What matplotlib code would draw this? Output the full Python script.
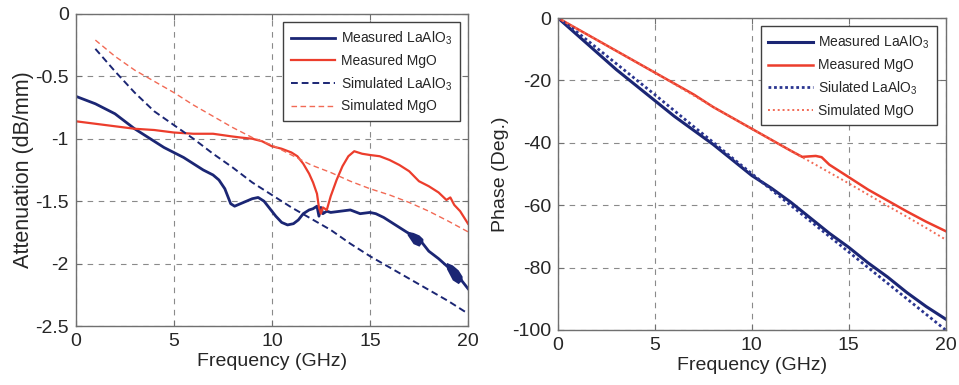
import matplotlib
matplotlib.use("Agg")
import matplotlib.pyplot as plt

plt.rcParams['font.family'] = ['Liberation Sans', 'DejaVu Sans']
plt.rcParams['mathtext.fontset'] = 'custom'
plt.rcParams['mathtext.rm'] = 'Liberation Sans'
plt.rcParams['mathtext.it'] = 'Liberation Sans'
plt.rcParams['axes.unicode_minus'] = False

NAVY = '#1b2674'
RED = '#ec3d2c'
SALMON = '#f26a55'
TXT = '#262626'

# ---- attenuation (left) ----
f_meas_la = [0, 0.5, 1, 1.5, 2, 2.5, 3, 3.5, 4, 4.5, 5, 5.5, 6, 6.5, 7, 7.3, 7.6, 7.9,
             8.1, 8.4, 8.7, 9.0, 9.3, 9.6, 9.9, 10.2, 10.5, 10.8, 11.1, 11.35, 11.6, 11.9,
             12.1, 12.3, 12.4, 12.5, 12.6, 12.8, 13.0, 13.5, 14.0, 14.5, 15.0, 15.3, 15.7,
             16.0, 16.5, 17.0, 17.5, 18.0, 18.5, 19.0, 19.5, 20.0]
att_meas_la = [-0.66, -0.69, -0.72, -0.76, -0.80, -0.86, -0.92, -0.97, -1.02, -1.07, -1.11,
               -1.15, -1.20, -1.25, -1.29, -1.33, -1.40, -1.52, -1.54, -1.52, -1.50, -1.48,
               -1.47, -1.50, -1.56, -1.62, -1.67, -1.69, -1.68, -1.65, -1.60, -1.57,
               -1.56, -1.54, -1.62, -1.55, -1.60, -1.58, -1.59, -1.58, -1.57, -1.60, -1.59,
               -1.60, -1.63, -1.66, -1.71, -1.76, -1.80, -1.90, -1.96, -2.03, -2.10, -2.20]

f_meas_mg = [0, 1, 2, 3, 4, 5, 6, 7, 7.9, 8.4, 9.0, 9.5, 10.0, 10.5, 11.0, 11.3, 11.6,
             11.9, 12.1, 12.3, 12.4, 12.5, 12.6, 12.8, 13.0, 13.3, 13.6, 13.9, 14.2, 14.6,
             15.0, 15.5, 16.0, 16.5, 17.0, 17.5, 18.0, 18.5, 18.9, 19.1, 19.3, 19.6, 20.0]
att_meas_mg = [-0.86, -0.88, -0.90, -0.92, -0.93, -0.95, -0.96, -0.96, -0.98, -0.99, -1.00,
               -1.02, -1.06, -1.08, -1.11, -1.14, -1.20, -1.28, -1.35, -1.44, -1.55, -1.60,
               -1.55, -1.57, -1.46, -1.33, -1.22, -1.14, -1.10, -1.12, -1.13, -1.14, -1.17,
               -1.21, -1.26, -1.34, -1.38, -1.43, -1.49, -1.47, -1.53, -1.58, -1.68]

f_sim = [1, 2, 3, 4, 5, 6, 7, 8, 9, 10, 11, 12, 13, 14, 15, 16, 17, 18, 19, 20]
att_sim_la = [-0.28, -0.46, -0.63, -0.78, -0.89, -1.00, -1.12, -1.23, -1.35, -1.45,
              -1.55, -1.64, -1.73, -1.84, -1.94, -2.03, -2.12, -2.21, -2.30, -2.40]
att_sim_mg = [-0.21, -0.34, -0.45, -0.54, -0.63, -0.73, -0.82, -0.91, -0.99, -1.05,
              -1.13, -1.21, -1.27, -1.34, -1.40, -1.45, -1.51, -1.58, -1.66, -1.745]

# noisy (thick) parts of the measured LaAlO3 trace
band_a_f = [16.9, 17.2, 17.5, 17.7]
band_a_lo = [-1.77, -1.84, -1.86, -1.82]
band_a_hi = [-1.74, -1.75, -1.77, -1.80]
band_b_f = [18.9, 19.2, 19.5, 19.7]
band_b_lo = [-2.04, -2.13, -2.16, -2.13]
band_b_hi = [-1.99, -2.01, -2.05, -2.10]

# ---- phase (right) ----
f_ph = [0, 1, 2, 3, 4, 5, 6, 7, 8, 9, 10, 11, 12, 13, 14, 15, 16, 17, 18, 19, 20]
ph_meas_la = [0, -5.5, -11, -16.5, -21.5, -26.5, -31.5, -36, -40.5, -45.5, -50.5,
              -54.5, -59, -64, -69, -73.5, -78.5, -83, -88, -92.5, -96.5]
ph_sim_la = [0, -4.6, -9.6, -14.6, -19.6, -24.6, -29.7, -34.8, -39.8, -44.9, -49.9,
             -55, -60, -65, -70, -75, -80, -85, -90, -95, -100]

f_ph_mg = [0, 1, 2, 3, 4, 5, 6, 7, 8, 9, 10, 11, 12, 12.6, 13.3, 13.6, 14, 15, 16, 17,
           18, 19, 20]
ph_meas_mg = [0, -3.5, -7, -10.5, -14, -17.5, -21, -24.5, -28.5, -32, -35.5, -39, -42.5,
              -44.5, -44.2, -44.6, -47, -51, -55, -58.5, -62, -65.3, -68.3]
f_ph_sim_mg = [0, 2, 5, 8, 10, 12.5, 13, 14, 15, 16, 17, 18, 19, 20]
ph_sim_mg = [0, -7, -17.5, -28.5, -35.5, -44.3, -46, -49.5, -53, -56.6, -60.2, -63.7,
             -67.3, -71]


def style_axes(ax):
    ax.grid(True, color='#8a8a8a', linestyle=(0, (5, 5)), linewidth=0.8)
    ax.set_axisbelow(True)
    for s in ax.spines.values():
        s.set_color('#707070')
        s.set_linewidth(1.0)
    ax.tick_params(direction='in', top=True, right=True, length=4, color='#707070',
                   labelsize=14, labelcolor=TXT, pad=5)
    ax.set_xlim(0, 20)
    ax.set_xticks([0, 5, 10, 15, 20])
    ax.set_xlabel('Frequency (GHz)', fontsize=14, color=TXT, labelpad=2)


def add_legend(ax):
    leg = ax.legend(loc='upper right', fontsize=10, frameon=True, fancybox=False,
                    edgecolor='#404040', framealpha=1, handlelength=3.2,
                    handletextpad=0.4, labelspacing=0.5, borderaxespad=0.6,
                    borderpad=0.55)
    leg.get_frame().set_linewidth(1.0)
    for t in leg.get_texts():
        t.set_color(TXT)


fig = plt.figure(figsize=(9.59, 3.85), dpi=100)
ax1 = fig.add_axes([0.079, 0.153, 0.409, 0.811])
ax2 = fig.add_axes([0.582, 0.143, 0.404, 0.810])

ax1.plot(f_meas_la, att_meas_la, color=NAVY, lw=2.0, label='Measured LaAlO$_3$')
ax1.plot(f_meas_mg, att_meas_mg, color=RED, lw=1.6, label='Measured MgO')
ax1.plot(f_sim, att_sim_la, color=NAVY, lw=1.4, ls=(0, (3.5, 2)),
         label='Simulated LaAlO$_3$')
ax1.plot(f_sim, att_sim_mg, color=SALMON, lw=1.0, ls=(0, (4, 2.5)),
         label='Simulated MgO')
ax1.fill_between(band_a_f, band_a_lo, band_a_hi, color=NAVY, lw=0)
ax1.fill_between(band_b_f, band_b_lo, band_b_hi, color=NAVY, lw=0)
style_axes(ax1)
ax1.set_ylim(-2.5, 0)
ax1.set_yticks([-2.5, -2, -1.5, -1, -0.5, 0])
ax1.set_yticklabels(['-2.5', '-2', '-1.5', '-1', '-0.5', '0'])
ax1.set_ylabel('Attenuation (dB/mm)', fontsize=15.5, color=TXT, labelpad=1)
add_legend(ax1)

ax2.plot(f_ph, ph_meas_la, color=NAVY, lw=2.2, label='Measured LaAlO$_3$')
ax2.plot(f_ph_mg, ph_meas_mg, color=RED, lw=1.8, label='Measured MgO')
ax2.plot(f_ph, ph_sim_la, color='#2a3590', lw=2.0, ls=(0, (1, 1)),
         label='Siulated LaAlO$_3$')
ax2.plot(f_ph_sim_mg, ph_sim_mg, color=SALMON, lw=1.4, ls=(0, (1, 1.5)),
         label='Simulated MgO')
style_axes(ax2)
ax2.set_ylim(-100, 0)
ax2.set_yticks([-100, -80, -60, -40, -20, 0])
ax2.set_ylabel('Phase (Deg.)', fontsize=14, color=TXT, labelpad=2)
add_legend(ax2)

fig.savefig('out.png', dpi=100, facecolor='white')
